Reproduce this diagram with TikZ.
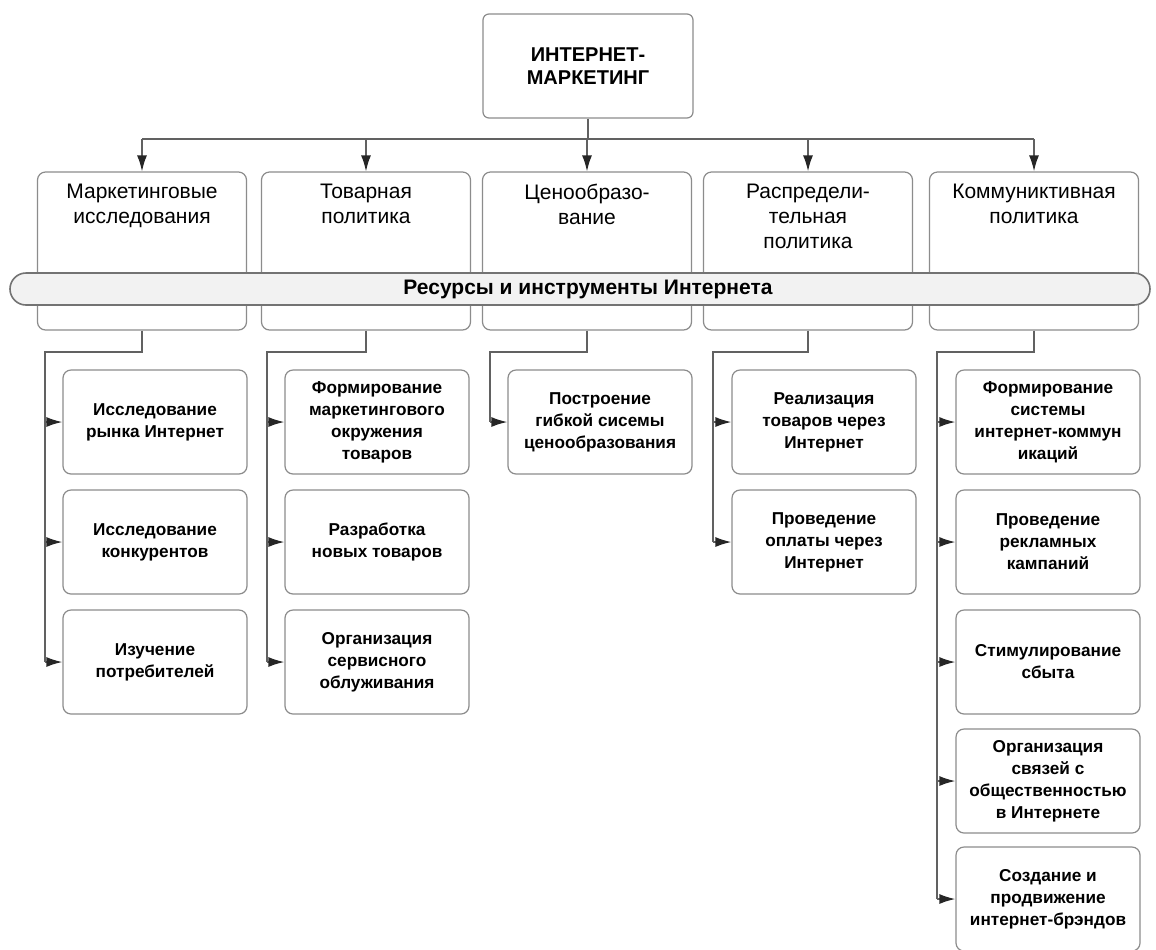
\documentclass[tikz,border=0pt]{standalone}
\usepackage{fontspec}
\setmainfont{Liberation Sans}
\usetikzlibrary{arrows.meta}
\begin{document}
\begin{tikzpicture}[x=0.5pt,y=-0.5pt,
  conn/.style={draw=black!62,line width=0.8pt},
  arr/.style={conn,-{Latex[length=8pt,width=5pt,color=black!85]}},
  topbox/.style={draw=black!45,line width=0.6pt,rounded corners=3pt,minimum width=105pt,minimum height=52pt,align=center,inner sep=0pt,font=\bfseries\fontsize{10}{11.5}\selectfont},
  headbox/.style={draw=black!45,line width=0.6pt,rounded corners=4pt,minimum width=104.5pt,minimum height=79pt,inner sep=0pt},
  headtext/.style={anchor=north,align=center,inner sep=0pt,font=\fontsize{10.5}{12.5}\selectfont},
  kidbox/.style={draw=black!45,line width=0.6pt,rounded corners=4pt,minimum width=92pt,minimum height=52pt,align=center,inner sep=1pt,font=\bfseries\fontsize{8.6}{11}\selectfont},
  band/.style={draw=black!55,line width=0.8pt,fill=black!5,rounded corners=8pt,minimum width=570pt,minimum height=16pt,inner sep=0pt},
  bandtext/.style={inner sep=0pt,font=\bfseries\fontsize{10.5}{12}\selectfont},
]
\useasboundingbox (0,0) rectangle (1156,949);
\fill[white] (0,0) rectangle (1156,949);

% top
\node[topbox] (top) at (588,66) {ИНТЕРНЕТ-\\МАРКЕТИНГ};

% header boxes
\node[headbox] (h1) at (142,251) {};
\node[headbox] (h2) at (366,251) {};
\node[headbox] (h3) at (587,251) {};
\node[headbox] (h4) at (808,251) {};
\node[headbox] (h5) at (1034,251) {};
\node[headtext] (t1) at (142,184) {Маркетинговые\\исследования};
\node[headtext] (t2) at (366,184) {Товарная\\политика};
\node[headtext] (t3) at (587,184) {Ценообразо-\\вание};
\node[headtext] (t4) at (808,184) {Распредели-\\тельная\\политика};
\node[headtext] (t5) at (1034,184) {Коммуниктивная\\политика};

% band
\node[band] (res) at (580,289) {};
\node[bandtext] (rest) at (588,289) {Ресурсы и инструменты Интернета};

% top connectors
\coordinate (hl) at (142,139);
\coordinate (hr) at (1034,139);
\draw[conn] (top.south) -- (top.south |- hl);
\draw[conn] (hl) -- (hr);
\draw[arr] (hl) -- (h1.north);
\draw[arr] (h2.north |- hl) -- (h2.north);
\draw[arr] (h3.north |- hl) -- (h3.north);
\draw[arr] (h4.north |- hl) -- (h4.north);
\draw[arr] (hr) -- (h5.north);

% children
\node[kidbox] (c11) at (155,422) {Исследование\\рынка Интернет};
\node[kidbox] (c12) at (155,542) {Исследование\\конкурентов};
\node[kidbox] (c13) at (155,662) {Изучение\\потребителей};

\node[kidbox] (c21) at (377,422) {Формирование\\маркетингового\\окружения\\товаров};
\node[kidbox] (c22) at (377,542) {Разработка\\новых товаров};
\node[kidbox] (c23) at (377,662) {Организация\\сервисного\\облуживания};

\node[kidbox] (c31) at (600,422) {Построение\\гибкой сисемы\\ценообразования};

\node[kidbox] (c41) at (824,422) {Реализация\\товаров через\\Интернет};
\node[kidbox] (c42) at (824,542) {Проведение\\оплаты через\\Интернет};

\node[kidbox] (c51) at (1048,422) {Формирование\\системы\\интернет-коммун\\икаций};
\node[kidbox] (c52) at (1048,542) {Проведение\\рекламных\\кампаний};
\node[kidbox] (c53) at (1048,662) {Стимулирование\\сбыта};
\node[kidbox] (c54) at (1048,781) {Организация\\связей с\\общественностью\\в Интернете};
\node[kidbox] (c55) at (1048,899) {Создание и\\продвижение\\интернет-брэндов};

% column connectors
\coordinate (k1) at (45,352);
\coordinate (k2) at (267,352);
\coordinate (k3) at (490,352);
\coordinate (k4) at (713,352);
\coordinate (k5) at (937,352);

\draw[conn] (h1.south) |- (k1) -- (k1 |- c13.west);
\draw[arr] (k1 |- c11.west) -- (c11.west);
\draw[arr] (k1 |- c12.west) -- (c12.west);
\draw[arr] (k1 |- c13.west) -- (c13.west);

\draw[conn] (h2.south) |- (k2) -- (k2 |- c23.west);
\draw[arr] (k2 |- c21.west) -- (c21.west);
\draw[arr] (k2 |- c22.west) -- (c22.west);
\draw[arr] (k2 |- c23.west) -- (c23.west);

\draw[conn] (h3.south) |- (k3) -- (k3 |- c31.west);
\draw[arr] (k3 |- c31.west) -- (c31.west);

\draw[conn] (h4.south) |- (k4) -- (k4 |- c42.west);
\draw[arr] (k4 |- c41.west) -- (c41.west);
\draw[arr] (k4 |- c42.west) -- (c42.west);

\draw[conn] (h5.south) |- (k5) -- (k5 |- c55.west);
\draw[arr] (k5 |- c51.west) -- (c51.west);
\draw[arr] (k5 |- c52.west) -- (c52.west);
\draw[arr] (k5 |- c53.west) -- (c53.west);
\draw[arr] (k5 |- c54.west) -- (c54.west);
\draw[arr] (k5 |- c55.west) -- (c55.west);
\end{tikzpicture}
\end{document}
